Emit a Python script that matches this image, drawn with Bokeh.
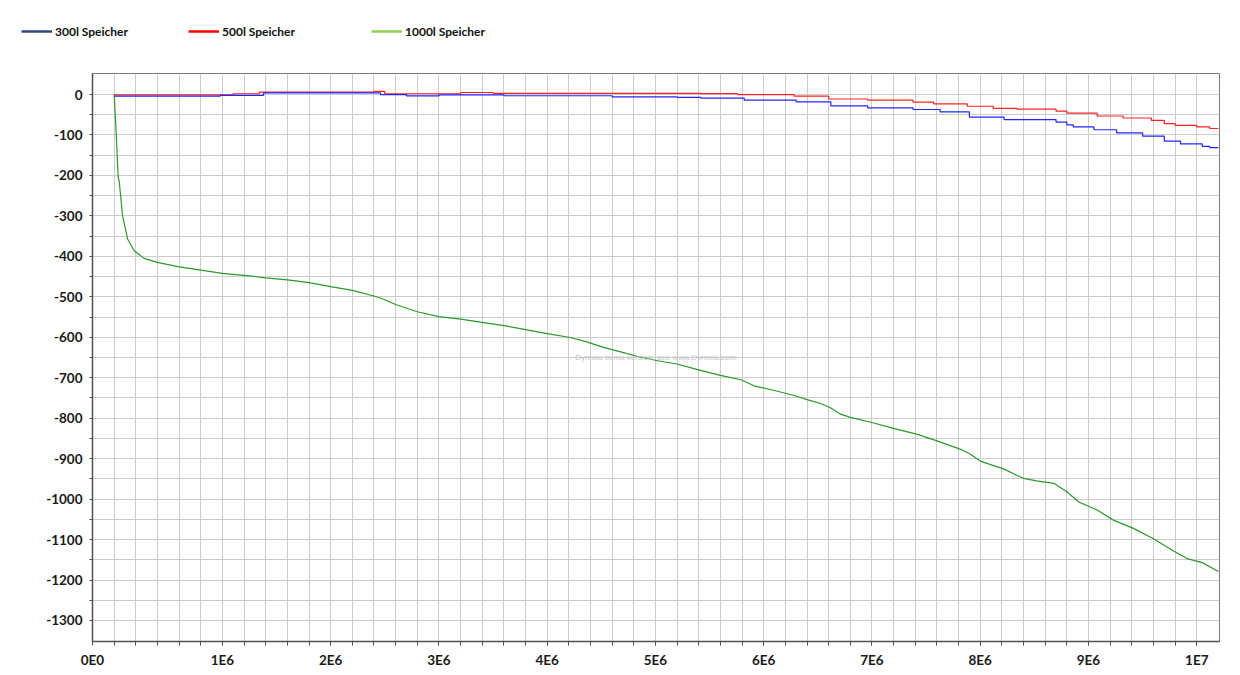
from bokeh.plotting import figure
from bokeh.models import Range1d, FixedTicker, Legend, LegendItem, Label
from bokeh.layouts import column
from bokeh.embed import file_html
from bokeh.resources import INLINE

# ---------------- data (time in million seconds, values as read) ----------------
t_1000 = [0, 0.016, 0.037, 0.046, 0.078, 0.124, 0.185, 0.277, 0.40, 0.60, 0.80, 1.00,
          1.20, 1.40, 1.60, 1.80, 2.00, 2.20, 2.40, 2.49, 2.60, 2.71, 2.80, 3.00, 3.20,
          3.40, 3.60, 3.80, 4.00, 4.20, 4.35, 4.52, 4.68, 4.83, 5.02, 5.20, 5.39, 5.60,
          5.79, 5.91, 6.09, 6.28, 6.40, 6.52, 6.62, 6.71, 6.80, 6.99, 7.20, 7.42, 7.60,
          7.82, 7.91, 8.00, 8.22, 8.40, 8.52, 8.68, 8.80, 8.91, 9.08, 9.23, 9.42, 9.60,
          9.79, 9.91, 10.05, 10.20]
v_1000 = [0, -80, -204, -213, -300, -357, -386, -405, -415, -426, -434, -442,
          -447, -453, -458, -465, -475, -484, -498, -506, -519, -529, -537, -549, -555,
          -563, -571, -581, -591, -600, -610, -625, -636, -647, -658, -666, -680, -694,
          -705, -720, -731, -744, -754, -763, -775, -790, -798, -810, -825, -840, -856,
          -877, -889, -906, -926, -949, -955, -961, -982, -1007, -1027, -1052, -1073, -1098,
          -1129, -1147, -1157, -1179]

t_500 = [0, 1.10, 1.34, 2.40, 2.50, 3.20, 3.50, 5.42, 5.76, 6.28, 6.60, 6.96, 7.38,
         7.57, 7.88, 8.12, 8.34, 8.70, 8.80, 9.08, 9.32, 9.58, 9.70, 9.80, 10.00, 10.12, 10.20]
v_500 = [-1, 2, 6, 8, 2, 5, 3, 2.5, 0, -4, -11, -14, -19,
         -23, -29, -34, -36, -41, -46, -53, -58, -64, -72, -76, -80, -84, -84]

t_300 = [0, 0.98, 1.38, 2.46, 2.70, 3.00, 3.60, 4.60, 5.20, 5.42, 5.82, 6.30, 6.62,
         6.96, 7.38, 7.63, 7.90, 8.22, 8.70, 8.80, 8.86, 9.05, 9.26, 9.50, 9.70, 9.85,
         10.05, 10.12, 10.20]
v_300 = [-4, -2, 4, 0, -3.5, -1, -3, -6, -7, -9, -14, -18, -28,
         -33, -37, -43, -56, -62, -68, -75, -80, -87, -95, -103, -115, -122,
         -128, -131, -131]

series_labels = ["300l Speicher", "500l Speicher", "1000l Speicher"]

x_tick_values = [-0.2e6, 1e6, 2e6, 3e6, 4e6, 5e6, 6e6, 7e6, 8e6, 9e6, 10e6]
x_tick_labels = ["0E0", "1E6", "2E6", "3E6", "4E6", "5E6", "6E6", "7E6", "8E6", "9E6", "1E7"]
x_minor_values = [i * 0.2e6 for i in range(0, 51)]
y_tick_values = [0, -100, -200, -300, -400, -500, -600, -700, -800, -900, -1000, -1100, -1200, -1300]
y_minor_values = [-50 - 100 * i for i in range(13)]

watermark = "Dymola demo version, see www.Dymola.com"

W = 1238

# ---------------- legend strip (own small figure, legends placed freely) ----------------
top = figure(width=W, height=65, output_backend="svg", toolbar_location=None,
             x_axis_type=None, y_axis_type=None, x_range=Range1d(0, 1), y_range=Range1d(0, 1),
             min_border=0, min_border_left=0, min_border_right=0,
             min_border_top=0, min_border_bottom=0)
top.frame_align = False
top.outline_line_color = None
top.grid.visible = False
top.background_fill_color = "white"
top.border_fill_color = "white"

legend_colors = ["#2f4a7a", "#ff0000", "#92d050"]
legend_x = [21, 188, 371]
for lab, col, lx in zip(series_labels, legend_colors, legend_x):
    # single-point line: draws nothing itself, only serves as the legend swatch
    r = top.line([0.5], [0.5], line_color=col, line_width=2.5)
    lg = Legend(items=[LegendItem(label=lab, renderers=[r])], location=(lx, 24),
                orientation="horizontal", glyph_width=31, glyph_height=20,
                label_height=20, label_standoff=3, padding=0, margin=0, spacing=0,
                border_line_color=None, background_fill_alpha=0,
                label_text_font="Lato", label_text_font_style="bold",
                label_text_font_size="12px", label_text_color="#111111")
    top.add_layout(lg)

# ---------------- main chart ----------------
p = figure(width=W, height=608, output_backend="svg", toolbar_location=None,
           x_range=Range1d(-0.2e6, 10.21e6), y_range=Range1d(-1352, 52),
           min_border_left=92, min_border_right=19, min_border_top=8, min_border_bottom=32)
p.frame_align = False
p.background_fill_color = "white"
p.border_fill_color = "white"
p.outline_line_color = "#7a7a7a"
p.outline_line_width = 1

for ax in (p.xaxis[0], p.yaxis[0]):
    ax.axis_line_color = "#505050"
    ax.axis_line_width = 1.5
    ax.major_tick_line_color = "#505050"
    ax.minor_tick_line_color = "#505050"
    ax.major_tick_in = 0
    ax.minor_tick_in = 0
    ax.major_label_text_font = "Lato"
    ax.major_label_text_font_style = "bold"
    ax.major_label_text_font_size = "13.5px"
    ax.major_label_text_color = "#1a1a1a"

p.xaxis.ticker = FixedTicker(ticks=x_tick_values, minor_ticks=x_minor_values)
p.xaxis.major_label_overrides = {v: s for v, s in zip(x_tick_values, x_tick_labels)}
p.xaxis.major_tick_out = 4
p.xaxis.minor_tick_out = 4
p.xaxis.major_label_standoff = 6

p.yaxis.ticker = FixedTicker(ticks=y_tick_values, minor_ticks=y_minor_values)
p.yaxis.major_label_overrides = {v: str(v) for v in y_tick_values}
p.yaxis.major_tick_out = 3
p.yaxis.minor_tick_out = 3
p.yaxis.major_label_standoff = 7

for g in (p.xgrid[0], p.ygrid[0]):
    g.grid_line_color = "#cccccc"
    g.grid_line_width = 1
    g.minor_grid_line_color = "#cccccc"
    g.minor_grid_line_width = 1

p.line([t * 1e6 for t in t_1000], v_1000, line_color="#2b982b", line_width=1.2)
p.step([t * 1e6 for t in t_500], v_500, mode="after", line_color="#ff2222", line_width=1.2)
p.step([t * 1e6 for t in t_300], v_300, mode="after", line_color="#2424ff", line_width=1.2)

p.add_layout(Label(x=5.0e6, y=-649, text=watermark, text_align="center",
                   text_baseline="middle", text_font="Liberation Sans",
                   text_font_size="8px", text_color="#c4c4c4"))

layout = column(top, p, spacing=0)
open("out.html", "w").write(file_html(layout, INLINE))
